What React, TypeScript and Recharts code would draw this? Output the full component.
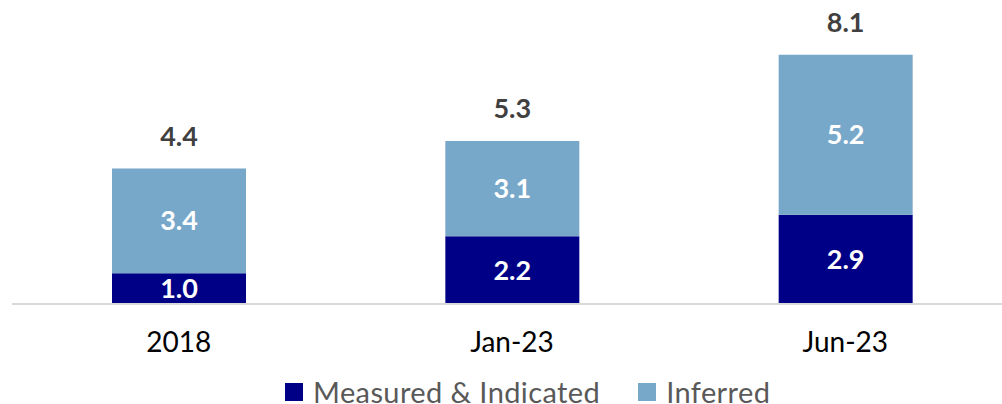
import { BarChart, Bar, XAxis, YAxis, LabelList } from "recharts";

const categories = ["2018", "Jan-23", "Jun-23"];
const measured = [1.0, 2.2, 2.9];
const inferred = [3.4, 3.1, 5.2];
const totals = [4.4, 5.3, 8.1];

const NAVY = "#000086";
const LIGHT = "#77A7C9";
const FONT = "Lato, 'Open Sans', sans-serif";

const data = categories.map((cat, i) => ({
  cat,
  measured: measured[i],
  inferred: inferred[i],
  total: totals[i],
}));

const fmt = (v: any) => Number(v).toFixed(1);

function LegendItem({ color, label }: { color: string; label: string }) {
  return (
    <div style={{ display: "flex", alignItems: "center", marginRight: 38 }}>
      <div style={{ width: 18, height: 18, background: color, marginRight: 10 }} />
      <span style={{ fontSize: 29, letterSpacing: 0.4, color: "#595959", lineHeight: "24px" }}>
        {label}
      </span>
    </div>
  );
}

export default function App() {
  return (
    <div
      style={{
        position: "absolute",
        left: 0,
        top: 0,
        width: 1002,
        height: 404,
        overflow: "hidden",
        background: "#fff",
        fontFamily: FONT,
      }}
    >
      <BarChart
        width={1012}
        height={404}
        data={data}
        margin={{ top: 27, right: 0, left: 12, bottom: 70 }}
      >
        <XAxis
          dataKey="cat"
          axisLine={{ stroke: "#D9D9D9", strokeWidth: 2 }}
          tickLine={false}
          tickMargin={22}
          tick={{ fill: "#000", fontSize: 28, fontFamily: FONT }}
        />
        <YAxis hide domain={[0, 9]} />
        <Bar dataKey="measured" stackId="a" fill={NAVY} barSize={134} isAnimationActive={false}>
          <LabelList
            dataKey="measured"
            position="center"
            formatter={fmt}
            style={{ fill: "#fff", fontSize: 27, fontWeight: 700, fontFamily: FONT }}
          />
        </Bar>
        <Bar dataKey="inferred" stackId="a" fill={LIGHT} barSize={134} isAnimationActive={false}>
          <LabelList
            dataKey="inferred"
            position="center"
            formatter={fmt}
            style={{ fill: "#fff", fontSize: 27, fontWeight: 700, fontFamily: FONT }}
          />
          <LabelList
            dataKey="total"
            position="top"
            offset={23}
            formatter={fmt}
            style={{ fill: "#404040", fontSize: 27, fontWeight: 700, fontFamily: FONT }}
          />
        </Bar>
      </BarChart>
      <div
        style={{
          position: "absolute",
          left: 285,
          top: 380,
          display: "flex",
          alignItems: "center",
        }}
      >
        <LegendItem color={NAVY} label="Measured & Indicated" />
        <LegendItem color={LIGHT} label="Inferred" />
      </div>
    </div>
  );
}
